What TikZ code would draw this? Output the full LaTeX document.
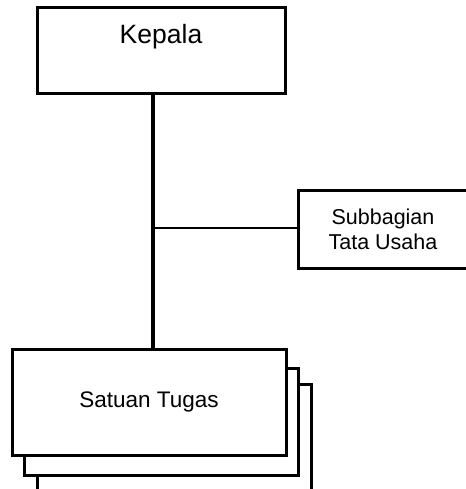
\documentclass[tikz,border=0pt]{standalone}
\usepackage{fontspec}
\setmainfont{Liberation Sans}
\usetikzlibrary{positioning, calc}
\tikzstyle{unit} = [draw, line width=3pt, fill=white, inner sep=0pt]
\tikzstyle{line} = [line width=2.5pt]

\begin{document}
\begin{tikzpicture}[x=1pt,y=-1pt]
    \useasboundingbox (0,0) rectangle (465,489);
   	\node[unit,minimum width=248pt,minimum height=86pt](kepala) at (161,51){};
   	\node[font=\fontsize{26.5}{30}\selectfont,inner sep=0pt](kepalatext)[below=18pt of kepala.north]{Kepala};
   	\node[unit,minimum width=220pt,minimum height=78pt](sub) at (408,229){};
   	\node[align=center,font=\fontsize{21.5}{25}\selectfont](subtext) at (383,229){Subbagian\\Tata Usaha};
   	\node[unit,minimum width=274pt,minimum height=108pt](satuan3) at (174,438){};
   	\node[unit,minimum width=274pt,minimum height=107pt](satuan2) at (161,421.5){};
   	\node[unit,minimum width=274pt,minimum height=106pt,font=\fontsize{22.5}{26}\selectfont](satuan) at (149,402){Satuan Tugas};
   	\coordinate (joint) at (153,228);
    \draw[line width=4pt] (kepala.south -| joint) -- (satuan.north -| joint);
    \draw[line] (joint) -- (joint -| sub.west);
\end{tikzpicture}
\end{document}
